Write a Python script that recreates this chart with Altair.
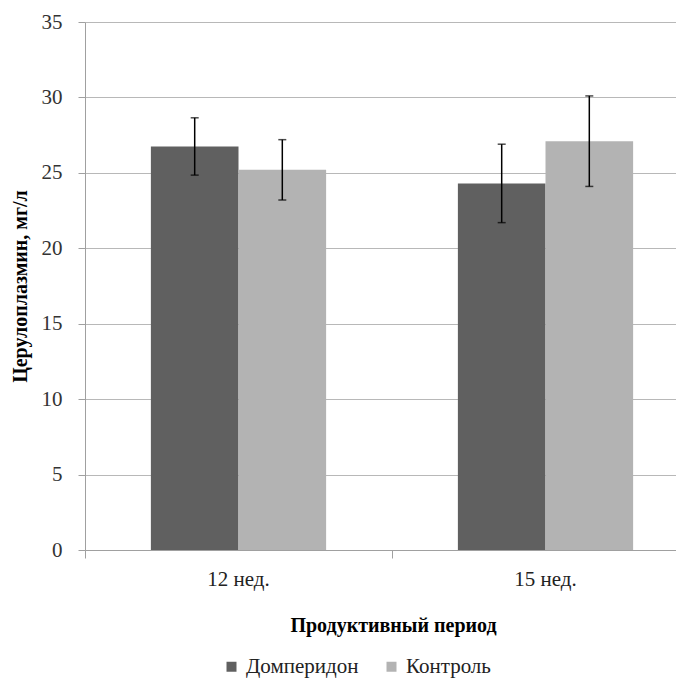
import altair as alt
import pandas as pd

periods = ["12 нед.", "15 нед."]
groups = ["Домперидон", "Контроль"]
dom_means = [26.75, 24.3]
dom_errs = [1.9, 2.6]
ctl_means = [25.2, 27.1]
ctl_errs = [2.0, 3.0]
y_ticks = [0, 5, 10, 15, 20, 25, 30, 35]

rows = []
for g, means, errs in [(groups[0], dom_means, dom_errs), (groups[1], ctl_means, ctl_errs)]:
    for p, m, e in zip(periods, means, errs):
        rows.append({"period": p, "group": g, "mean": m, "lo": m - e, "hi": m + e})
df = pd.DataFrame(rows)

FONT = "Liberation Serif, Times New Roman, serif"

x_enc = alt.X(
    "period:N",
    sort=periods,
    scale=alt.Scale(range=[0, 614], paddingInner=0, paddingOuter=0),
    axis=alt.Axis(
        title="Продуктивный период",
        labelAngle=0,
        bandPosition=0,
        domainColor="#a0a0a0",
        tickColor="#a0a0a0",
        tickSize=8,
        labelFont=FONT,
        labelFontSize=21,
        labelColor="#222222",
        labelPadding=10,
        titleFont=FONT,
        titleFontSize=20,
        titleFontWeight="bold",
        titleColor="#000000",
        titleX=308,
        titleY=75,
        titleBaseline="middle",
    ),
)
xo_enc = alt.XOffset("group:N", sort=groups, scale=alt.Scale(paddingInner=0, paddingOuter=0.752))

y_axis = alt.Axis(
    values=y_ticks,
    grid=True,
    gridColor="#b8b8b8",
    domainColor="#a0a0a0",
    tickColor="#a0a0a0",
    tickSize=7,
    labelFont=FONT,
    labelFontSize=21,
    labelColor="#333333",
    labelPadding=16,
    title="Церулоплазмин, мг/л",
    titleFont=FONT,
    titleFontSize=20,
    titleFontWeight="bold",
    titleColor="#000000",
    titleAngle=-90,
    titleX=-65,
    titleY=264,
    titleBaseline="middle",
)

base = alt.Chart(df)

bars = base.mark_bar().encode(
    x=x_enc,
    xOffset=xo_enc,
    y=alt.Y("mean:Q", scale=alt.Scale(domain=[0, 35], nice=False), axis=y_axis),
    color=alt.Color(
        "group:N",
        sort=groups,
        scale=alt.Scale(domain=groups, range=["#606060", "#b3b3b3"]),
        legend=alt.Legend(
            title=None,
            orient="none",
            legendX=136,
            legendY=634,
            direction="horizontal",
            symbolType="square",
            symbolSize=100,
            symbolStrokeWidth=0,
            labelFont=FONT,
            labelFontSize=21,
            labelColor="#222222",
            labelOffset=4,
            columnPadding=22,
        ),
    ),
)

rules = base.mark_rule(color="#000000", strokeWidth=1.5).encode(
    x=x_enc, xOffset=xo_enc, y="lo:Q", y2="hi:Q"
)
cap_lo = base.mark_tick(color="#000000", orient="horizontal", size=8, thickness=1.5).encode(
    x=x_enc, xOffset=xo_enc, y="lo:Q"
)
cap_hi = base.mark_tick(color="#000000", orient="horizontal", size=8, thickness=1.5).encode(
    x=x_enc, xOffset=xo_enc, y="hi:Q"
)

chart = (
    alt.layer(bars, rules, cap_lo, cap_hi)
    .properties(
        width=591,
        height=528,
        autosize="none",
        padding={"left": 77, "top": 14, "right": 0, "bottom": 128},
    )
    .configure(font=FONT)
    .configure_view(stroke=None)
)

chart.save("out.html", embed_options={"renderer": "svg", "actions": False})
